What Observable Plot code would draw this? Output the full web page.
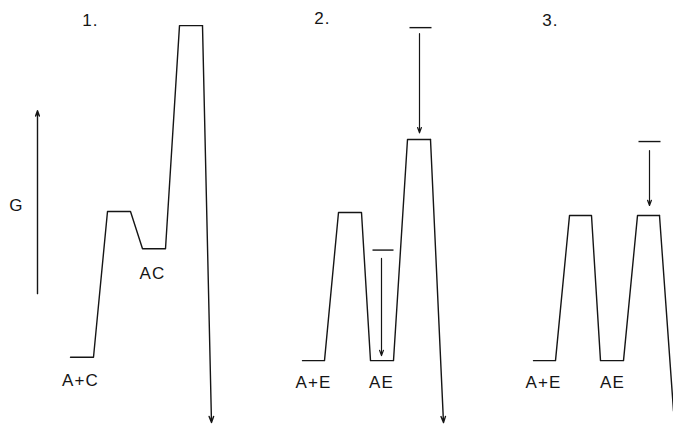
<!DOCTYPE html>
<html>
<head>
<meta charset="utf-8">
<script src="https://cdn.jsdelivr.net/npm/d3@7"></script>
<script src="https://cdn.jsdelivr.net/npm/@observablehq/plot@0.6"></script>
<style>
  html, body { margin: 0; padding: 0; background: #fff; }
  #chart { width: 673px; height: 428px; }
  #chart svg text { letter-spacing: 1.2px; }
</style>
</head>
<body>
<div id="chart"></div>
<script>
// Reaction coordinate (x) and free energy G (arbitrary units) for each profile
const panel1X = [7.0, 9.3, 10.7, 13.0, 14.2, 16.5, 17.9, 20.2];
const panel1G = [1, 1, 44.5, 44.5, 33.4, 33.4, 100, 100];
const panel2X = [30.2, 32.4, 33.8, 36.1, 37.0, 39.3, 40.7, 43.0];
const panel2G = [0, 0, 44.2, 44.2, 0, 0, 66, 66];
const panel3X = [53.3, 55.5, 56.9, 59.1, 60.0, 62.3, 63.7, 65.9];
const panel3G = [0, 0, 43.3, 43.3, 0, 0, 43.3, 43.3];

// final descents (products) : start x, start G, end x, end G
const dropX1 = [20.2, 43.0];
const dropG1 = [100, 66];
const dropX2 = [21.1, 44.3];
const dropG2 = [-18.5, -18.5];
// panel 3 descent runs off the edge
const drop3X = [65.9, 67.3];
const drop3G = [43.3, -15];

// original levels (short bars) before stabilisation / destabilisation
const barX1 = [40.9, 37.2, 63.8];
const barX2 = [43.1, 39.3, 66.0];
const barG  = [99.4, 33.0, 65.4];
// shift arrows
const shiftX  = [41.9, 38.1, 64.9];
const shiftG1 = [97.6, 30.5, 62.7];
const shiftG2 = [68.0, 1.5, 46.3];

// G axis arrow
const axisX = 3.7, axisG1 = 20, axisG2 = 74.6;

// labels
const labelText = ["1.", "2.", "3.", "G", "A+C", "AC", "A+E", "AE", "A+E", "AE"];
const labelX    = [9.0, 32.2, 55.0, 1.6, 8.0, 15.2, 31.3, 38.1, 54.3, 61.2];
const labelG    = [101.6, 102.0, 101.6, 46.3, -6.0, 26.0, -6.5, -6.5, -6.5, -6.5];

const profiles = [
  ...panel1X.map((x, i) => ({p: 1, x, g: panel1G[i]})),
  ...panel2X.map((x, i) => ({p: 2, x, g: panel2G[i]})),
  ...panel3X.map((x, i) => ({p: 3, x, g: panel3G[i]}))
];
const drops = dropX1.map((x, i) => ({x1: x, y1: dropG1[i], x2: dropX2[i], y2: dropG2[i]}));
const bars = barX1.map((x, i) => ({x1: x, x2: barX2[i], g: barG[i]}));
const shifts = shiftX.map((x, i) => ({x, y1: shiftG1[i], y2: shiftG2[i]}));
const labels = labelText.map((t, i) => ({t, x: labelX[i], g: labelG[i]}));

const ink = "#151515";
const chart = Plot.plot({
  width: 673,
  height: 428,
  margin: 0,
  x: {domain: [0, 67.3], axis: null},
  y: {domain: [-20.26, 107.5], axis: null},
  style: {background: "#fff", fontFamily: "Liberation Sans, Arial, Helvetica, sans-serif"},
  marks: [
    Plot.line(profiles, {x: "x", y: "g", z: "p", stroke: ink, strokeWidth: 1.4}),
    Plot.arrow(drops, {x1: "x1", y1: "y1", x2: "x2", y2: "y2", stroke: ink, strokeWidth: 1.4, headLength: 7, headAngle: 40}),
    Plot.line(drop3X.map((x, i) => ({x, g: drop3G[i]})), {x: "x", y: "g", stroke: ink, strokeWidth: 1.4}),
    Plot.link(bars, {x1: "x1", x2: "x2", y1: "g", y2: "g", stroke: ink, strokeWidth: 1.4}),
    Plot.arrow(shifts, {x1: "x", x2: "x", y1: "y1", y2: "y2", stroke: ink, strokeWidth: 1.2, headLength: 7, headAngle: 40}),
    Plot.arrow([{x: axisX, y1: axisG1, y2: axisG2}], {x1: "x", x2: "x", y1: "y1", y2: "y2", stroke: ink, strokeWidth: 1.4, headLength: 6, headAngle: 40}),
    Plot.text(labels, {x: "x", y: "g", text: "t", fontSize: 17, fill: ink, textAnchor: "middle"})
  ]
});
document.getElementById("chart").appendChild(chart);
</script>
</body>
</html>
